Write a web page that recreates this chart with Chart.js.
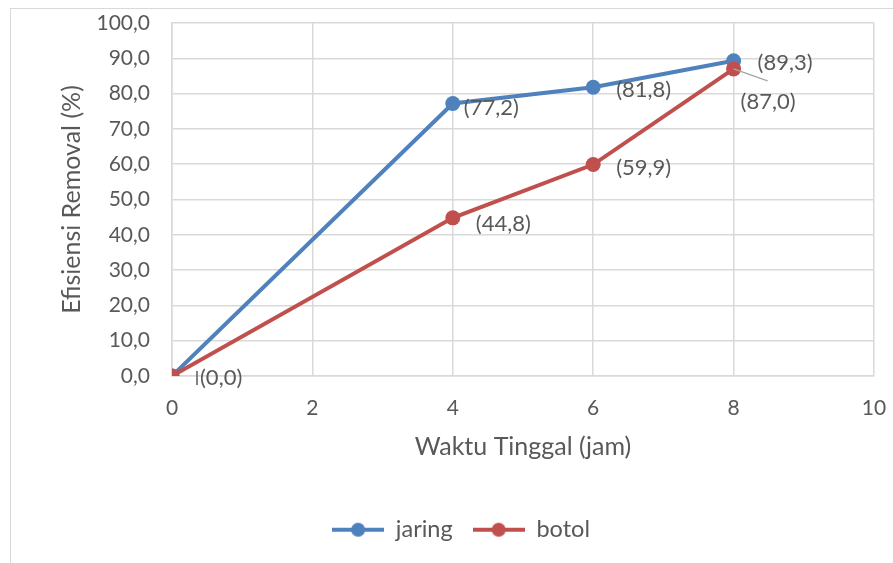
<!DOCTYPE html>
<html>
<head>
<meta charset="utf-8">
<script src="https://cdn.jsdelivr.net/npm/chart.js@4.4.1/dist/chart.umd.min.js"></script>
<style>
  body { margin: 0; background: #fff; }
  #wrap { position: relative; width: 893px; height: 563px; overflow: hidden; }
  #frame { position: absolute; left: 10px; top: 8px; width: 1000px; height: 1000px; border: 1px solid #d9d9d9; }
  #chart { position: absolute; left: 0; top: 0; }
</style>
</head>
<body>
<div id="wrap">
  <div id="frame"></div>
  <canvas id="chart" width="893" height="563"></canvas>
</div>
<script>
// data dari grafik
const waktu = [0, 4, 6, 8];
const jaring = [0, 77.2, 81.8, 89.3];
const botol = [0, 44.8, 59.9, 87.0];
const xTicks = [0, 2, 4, 6, 8, 10];
const yTicks = [0, 10, 20, 30, 40, 50, 60, 70, 80, 90, 100];

const BLUE = '#4f81bd';
const RED = '#c0504d';
const TEXT = '#595959';
const GRID = '#d9d9d9';
const FONT = 'Lato, "Open Sans", sans-serif';

// format angka pakai koma
const fmt = v => v.toFixed(1).replace('.', ',');

// posisi label data (offset piksel dari titik), null = tidak ditampilkan
const labelPos = {
  jaring: [null, [11, 4], [23, 3], [24, 2]],
  botol: [[28, 2], [23, 6], [23, 3], [7, 33]],
};
// garis penunjuk (leader line)
const leaders = {
  botol: [[[25, -5], [25, 9], TEXT], null, null, [[0, 0], [34, 12], '#a6a6a6']],
};

function toPoints(ys) {
  return waktu.map((x, i) => ({ x: x, y: ys[i] }));
}

// ikon legenda: garis + lingkaran
function legendIcon(color) {
  const c = document.createElement('canvas');
  c.width = 52; c.height = 16;
  const g = c.getContext('2d');
  g.strokeStyle = color; g.lineWidth = 4;
  g.beginPath(); g.moveTo(0, 8); g.lineTo(52, 8); g.stroke();
  g.fillStyle = color;
  g.beginPath(); g.arc(26, 8, 7, 0, Math.PI * 2); g.fill();
  return c;
}
const icons = [legendIcon(BLUE), legendIcon(RED)];

const dataLabels = {
  id: 'dataLabels',
  afterDatasetsDraw(chart) {
    const ctx = chart.ctx;
    ctx.save();
    ctx.font = '22px ' + FONT;
    ctx.textBaseline = 'middle';
    ctx.textAlign = 'left';
    chart.data.datasets.forEach((ds, i) => {
      const meta = chart.getDatasetMeta(i);
      const pos = labelPos[ds.label];
      const lead = leaders[ds.label] || [];
      meta.data.forEach((pt, j) => {
        const l = lead[j];
        if (l) {
          ctx.strokeStyle = l[2];
          ctx.lineWidth = 1.5;
          ctx.beginPath();
          ctx.moveTo(pt.x + l[0][0], pt.y + l[0][1]);
          ctx.lineTo(pt.x + l[1][0], pt.y + l[1][1]);
          ctx.stroke();
        }
        const p = pos[j];
        if (!p) return;
        ctx.fillStyle = TEXT;
        ctx.fillText('(' + fmt(ds.data[j].y) + ')', pt.x + p[0], pt.y + p[1]);
      });
    });
    ctx.restore();
  }
};

// buang padding otomatis dari label tick supaya area plot pas
function noAutoPadding(s) {
  s.paddingTop = 0;
  s.paddingBottom = 0;
  s.paddingLeft = 0;
  s.paddingRight = 0;
}

const ctx = document.getElementById('chart').getContext('2d');
new Chart(ctx, {
  type: 'scatter',
  data: {
    datasets: [
      {
        label: 'jaring',
        data: toPoints(jaring),
        showLine: true,
        borderColor: BLUE,
        backgroundColor: BLUE,
        borderWidth: 4,
        pointRadius: 7.5,
        pointBorderWidth: 0,
        order: 1,
      },
      {
        label: 'botol',
        data: toPoints(botol),
        showLine: true,
        borderColor: RED,
        backgroundColor: RED,
        borderWidth: 4,
        pointRadius: 7.5,
        pointBorderWidth: 0,
        order: 0,
      },
    ],
  },
  options: {
    responsive: false,
    animation: false,
    layout: { padding: { left: 48, top: 23, right: 19, bottom: 11.5 } },
    scales: {
      x: {
        type: 'linear',
        min: 0,
        max: 10,
        afterBuildTicks: s => { s.ticks = xTicks.map(v => ({ value: v })); },
        afterFit: s => { s.height = 122; noAutoPadding(s); },
        grid: { color: GRID, lineWidth: 1.5, drawTicks: false },
        border: { color: GRID, width: 1.5 },
        ticks: { color: TEXT, font: { family: FONT, size: 21 }, padding: 20 },
        title: {
          display: true,
          text: 'Waktu Tinggal (jam)',
          color: TEXT,
          font: { family: FONT, size: 25 },
          padding: { top: 0, bottom: 36 },
        },
      },
      y: {
        type: 'linear',
        min: 0,
        max: 100,
        afterBuildTicks: s => { s.ticks = yTicks.map(v => ({ value: v })); },
        afterFit: s => { s.width = 124; noAutoPadding(s); },
        grid: { color: GRID, lineWidth: 1.5, drawTicks: false },
        border: { color: GRID, width: 1.5 },
        ticks: { color: TEXT, font: { family: FONT, size: 21 }, padding: 22, callback: v => fmt(v) },
        title: {
          display: true,
          text: 'Efisiensi Removal (%)',
          color: TEXT,
          font: { family: FONT, size: 25 },
          padding: { top: 9, bottom: 0 },
        },
      },
    },
    plugins: {
      tooltip: { enabled: false },
      legend: {
        position: 'bottom',
        labels: {
          usePointStyle: true,
          pointStyleWidth: 52,
          padding: 20,
          color: TEXT,
          font: { family: FONT, size: 23.5 },
          sort: (a, b) => a.datasetIndex - b.datasetIndex,
          generateLabels: chart => chart.data.datasets.map((ds, i) => ({
            text: ds.label,
            fillStyle: ds.borderColor,
            strokeStyle: ds.borderColor,
            lineWidth: 0,
            pointStyle: icons[i],
            hidden: false,
            datasetIndex: i,
            fontColor: TEXT,
          })),
        },
      },
    },
  },
  plugins: [dataLabels],
});
</script>
</body>
</html>
